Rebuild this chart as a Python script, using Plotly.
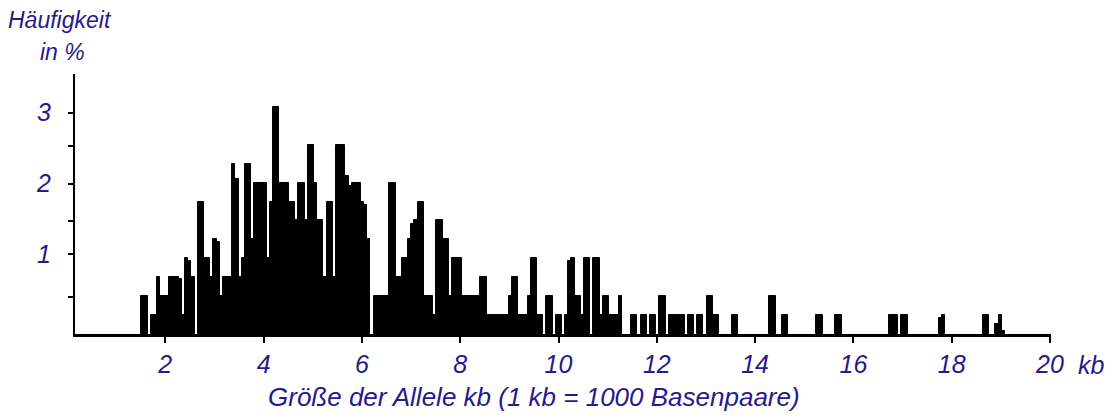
import plotly.graph_objects as go

# Histogram of allele sizes: bin edges (kb) and bar heights (% frequency); None = empty bin
edges_kb = [
    1.51, 1.65, 1.71, 1.83, 1.89, 2.08, 2.28, 2.34, 2.40, 2.46,
    2.52, 2.60, 2.67, 2.79, 2.91, 2.97, 3.05, 3.11, 3.17, 3.36,
    3.42, 3.50, 3.56, 3.62, 3.74, 3.80, 4.07, 4.13, 4.19, 4.31,
    4.52, 4.64, 4.70, 4.84, 4.90, 5.03, 5.09, 5.21, 5.29, 5.41,
    5.47, 5.66, 5.74, 5.80, 5.98, 6.04, 6.10, 6.16, 6.25, 6.55,
    6.69, 6.82, 6.94, 7.00, 7.06, 7.14, 7.26, 7.45, 7.51, 7.65,
    7.77, 7.83, 8.04, 8.40, 8.55, 8.99, 9.05, 9.18, 9.38, 9.44,
    9.56, 9.68, 9.75, 9.89, 9.95, 10.07, 10.13, 10.19, 10.25, 10.34,
    10.46, 10.52, 10.64, 10.70, 10.84, 10.91, 11.03, 11.23, 11.29, 11.48,
    11.60, 11.68, 11.80, 11.86, 11.98, 12.04, 12.19, 12.25, 12.57, 12.63,
    12.76, 12.82, 12.94, 13.02, 13.14, 13.27, 13.53, 13.65, 14.28, 14.43,
    14.55, 14.67, 15.24, 15.38, 15.63, 15.77, 16.72, 16.91, 16.97, 17.11,
    17.74, 17.80, 17.86, 18.64, 18.76, 18.88, 18.96, 19.02, 19.08,
]
height_pct = [
    0.41, None, 0.14, 0.68, 0.41, 0.68, 0.65, 0.14, 0.95, 0.91,
    0.68, None, 1.74, 0.95, 0.68, 1.22, 1.18, 0.41, 0.68, 2.27,
    2.06, 0.68, 0.95, 2.27, 1.22, 2.01, 0.95, 1.74, 3.08, 2.01,
    1.74, 1.48, 2.01, 1.48, 2.54, 2.01, 1.48, 0.68, 1.74, 0.68,
    2.54, 2.11, 1.96, 2.01, 1.74, 1.70, 1.22, None, 0.41, 2.01,
    0.68, 0.95, 1.22, 1.43, 1.48, 1.74, 0.41, 0.14, 1.48, 1.22,
    0.41, 0.95, 0.41, 0.68, 0.14, 0.41, 0.68, 0.14, 0.41, 0.95,
    0.14, None, 0.41, None, 0.14, None, 0.14, 0.91, 0.95, 0.41,
    0.14, 0.95, None, 0.95, 0.14, 0.41, 0.14, 0.41, None, 0.14,
    None, 0.14, None, 0.14, None, 0.41, None, 0.14, None, 0.14,
    None, 0.14, None, 0.41, 0.14, None, 0.14, None, 0.41, None,
    0.14, None, 0.14, None, 0.14, None, 0.14, None, 0.14, None,
    0.10, 0.14, None, 0.14, None, 0.02, 0.14, -0.08,
]
x_tick_vals = [2, 4, 6, 8, 10, 12, 14, 16, 18, 20]
x_tick_labels = ["2", "4", "6", "8", "10", "12", "14", "16", "18", "20"]
y_tick_vals = [0.4, 1, 1.47, 2, 2.53, 3]
y_tick_labels = ["", "1", "", "2", "", "3"]

assert len(edges_kb) == len(height_pct) + 1

TEXT = "#261a8c"
FONT = "Liberation Sans, Arial, sans-serif"
X_MIN, X_MAX = 0.163, 20.02
Y_MIN, Y_MAX = -0.126, 3.547

xs, ws, ys = [], [], []
for i, h in enumerate(height_pct):
    if h is None:
        continue
    a, b = edges_kb[i], edges_kb[i + 1]
    xs.append((a + b) / 2)
    ws.append(b - a)
    ys.append(h - Y_MIN)

fig = go.Figure(go.Bar(
    x=xs, y=ys, width=ws, base=Y_MIN,
    marker=dict(color="black", line=dict(color="black", width=1)),
    hoverinfo="skip",
))


def f(size):
    return dict(family=FONT, color=TEXT, size=size, style="italic")


fig.update_layout(
    width=1119, height=415, autosize=False,
    margin=dict(l=67, r=76, t=66, b=89, autoexpand=False),
    paper_bgcolor="white", plot_bgcolor="white",
    showlegend=False, bargap=0,
    font=f(22),
    xaxis=dict(
        range=[X_MIN, X_MAX], showgrid=False, zeroline=False, automargin=False,
        showline=True, linecolor="black", linewidth=3,
        ticks="outside", ticklen=6, tickwidth=2, tickcolor="black",
        tickvals=x_tick_vals, ticktext=x_tick_labels,
        tickfont=f(25), ticklabelstandoff=0,
    ),
    yaxis=dict(
        range=[Y_MIN, Y_MAX], showgrid=False, zeroline=False, automargin=False,
        showline=True, linecolor="black", linewidth=2,
        ticks="outside", ticklen=5, tickwidth=2, tickcolor="black",
        tickvals=y_tick_vals, ticktext=y_tick_labels,
        tickfont=f(25), ticklabelstandoff=12,
    ),
    annotations=[
        dict(text="kb", xref="paper", yref="paper", x=1.042, y=-0.119,
             xanchor="center", yanchor="middle", showarrow=False, font=f(25)),
        dict(text="Größe der Allele kb (1 kb = 1000 Basenpaare)", xref="paper", yref="paper",
             x=0.470, y=-0.242, xanchor="center", yanchor="middle", showarrow=False, font=f(26)),
        dict(text="Häufigkeit", xref="paper", yref="paper", x=-0.0154, y=1.2077,
             xanchor="center", yanchor="middle", showarrow=False, font=f(23)),
        dict(text="in %", xref="paper", yref="paper", x=-0.013, y=1.0846,
             xanchor="center", yanchor="middle", showarrow=False, font=f(23)),
    ],
)

fig.write_html("out.html")
